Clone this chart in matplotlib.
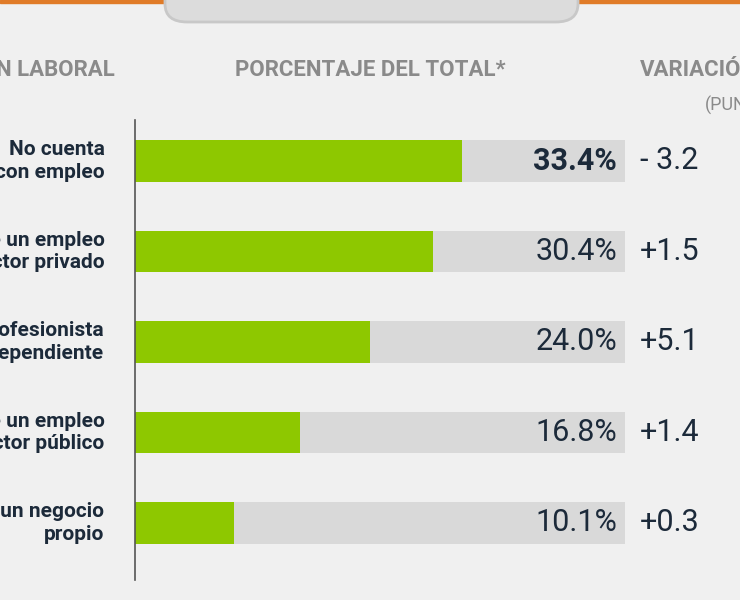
import matplotlib
matplotlib.use("Agg")
import matplotlib.pyplot as plt
from matplotlib.patches import FancyBboxPatch, Rectangle

categories = ["No cuenta\ncon empleo", "Tiene un empleo\nen el sector privado",
              "Profesionista\nindependiente", "Tiene un empleo\nen el sector público",
              "Tiene un negocio\npropio"]
values = [33.4, 30.4, 24.0, 16.8, 10.1]
labels = ["33.4%", "30.4%", "24.0%", "16.8%", "10.1%"]
variation = ["- 3.2", "+1.5", "+5.1", "+1.4", "+0.3"]

W, H = 740, 600
fig = plt.figure(figsize=(7.4, 6), dpi=100)
fig.patch.set_facecolor("#f0f0f0")
font = "Roboto"

# top decoration
fig.add_artist(Rectangle((0, 1 - 3 / H), 1, 3 / H, transform=fig.transFigure, color="#e07b28"))
fig.add_artist(FancyBboxPatch((165 / W, 1 - 22 / H), (578 - 165) / W, 0.2,
                              boxstyle="round,pad=0,rounding_size=0.03", transform=fig.transFigure,
                              facecolor="#dcdcdc", edgecolor="#c8c8c8", lw=2))

ax = fig.add_axes([135 / W, 20 / H, 490 / W, 460 / H])
ax.set_facecolor("none")
y = list(range(len(values)))
ax.barh(y, [50] * len(values), height=0.46, color="#d9d9d9", left=0)
ax.barh(y, values, height=0.46, color="#8ec800")
ax.set_xlim(0, 50)
ax.set_ylim(4.63, -0.453)
for s in ["top", "right", "bottom"]:
    ax.spines[s].set_visible(False)
ax.spines["left"].set_color("#555555")
ax.spines["left"].set_linewidth(1.2)
ax.set_xticks([]); ax.set_yticks([])

for i, (lab, cat, var) in enumerate(zip(labels, categories, variation)):
    ax.text(49.2, i, lab, ha="right", va="center", fontsize=22, family=font,
            fontweight="bold" if i == 0 else "normal", color="#1c2a3a")
    ax.annotate(cat, xy=(0, i), xytext=(-22, 0), textcoords="offset points",
                xycoords="data", ha="right", va="center", fontsize=15, family=font,
                fontweight="bold", color="#1c2a3a", linespacing=1.25, annotation_clip=False)
    ax.annotate(var, xy=(50, i), xytext=(11, 0), textcoords="offset points",
                ha="left", va="center", fontsize=22, family=font, color="#1c2a3a",
                annotation_clip=False)

fig.text(115 / W, 1 - 70 / H, "SITUACIÓN LABORAL", ha="right", va="center", fontsize=16,
         family=font, fontweight="bold", color="#8a8a8a")
fig.text(370 / W, 1 - 70 / H, "PORCENTAJE DEL TOTAL*", ha="center", va="center", fontsize=16,
         family=font, fontweight="bold", color="#8a8a8a")
fig.text(640 / W, 1 - 70 / H, "VARIACIÓN", ha="left", va="center", fontsize=16,
         family=font, fontweight="bold", color="#8a8a8a")
fig.text(705 / W, 1 - 105 / H, "(PUNTOS)", ha="left", va="center", fontsize=13,
         family=font, color="#8a8a8a")

fig.savefig("out.png", dpi=100, facecolor=fig.get_facecolor())
